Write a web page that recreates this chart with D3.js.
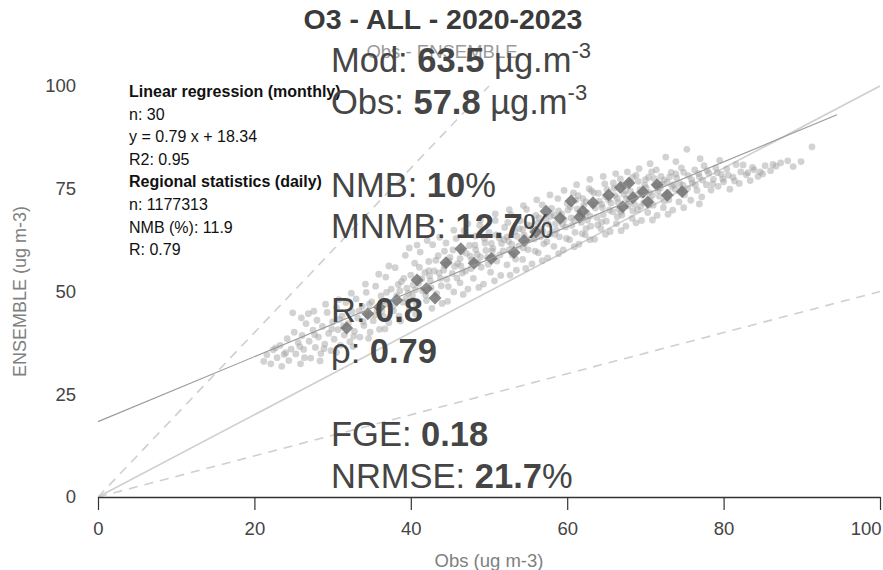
<!DOCTYPE html>
<html>
<head>
<meta charset="utf-8">
<script src="https://cdn.jsdelivr.net/npm/d3@7"></script>
<style>
  html, body { margin: 0; padding: 0; background: #fff; }
  svg { display: block; font-family: "Liberation Sans", Arial, sans-serif; }
</style>
</head>
<body>
<svg id="chart" width="883" height="570"></svg>
<script>
// Daily station pairs (Obs, ENSEMBLE) in ug m-3
const dailyPoints = [
  [21.2,33.0],[21.6,34.6],[22.1,32.4],[22.4,35.8],[22.9,33.9],[23.3,36.9],[23.5,31.8],[23.8,34.7],[24.2,38.5],[24.4,33.2],
  [24.7,36.0],[24.9,44.8],[25.1,40.1],[25.3,34.8],[25.6,37.6],[25.9,32.4],[26.1,39.3],[26.3,35.9],[26.6,42.2],[26.9,44.6],
  [27.0,37.9],[27.2,33.8],[27.5,40.6],[27.8,36.4],[28.0,43.0],[28.2,38.9],[28.5,34.9],[28.7,41.5],[29.0,37.2],[29.3,44.9],
  [29.5,39.8],[29.8,35.6],[30.0,42.6],[30.2,38.4],[30.5,46.1],[30.7,40.7],[31.0,36.9],[31.2,44.0],[31.5,39.4],[31.7,47.3],
  [32.0,42.2],[32.2,37.8],[32.5,45.1],[32.8,40.3],[33.0,48.2],[33.2,43.6],[33.5,38.9],[33.8,46.4],[34.0,41.7],[34.3,49.8],
  [34.5,44.2],[34.8,40.1],[35.0,47.5],[35.2,42.9],[35.5,51.3],[35.7,45.6],[36.0,40.8],[36.2,48.9],[36.5,43.9],[36.8,53.5],
  [37.0,47.0],[37.2,42.4],[37.5,50.6],[37.8,45.3],[38.0,55.8],[38.2,49.0],[38.5,44.0],[38.8,52.4],[39.0,47.4],[39.3,58.8],
  [39.5,50.8],[39.8,45.5],[40.0,54.0],[40.2,49.1],[40.5,56.9],[40.7,46.7],[41.0,52.0],[41.2,59.6],[41.5,50.2],[41.8,54.6],
  [42.0,47.8],[42.3,57.3],[42.5,52.6],[42.8,61.4],[43.0,55.0],[43.3,49.5],[43.5,58.7],[43.8,53.2],[44.0,47.1],[44.3,56.4],
  [44.5,61.8],[44.8,51.2],[45.0,58.3],[45.3,54.4],[45.5,49.9],[45.8,62.9],[46.0,56.8],[46.3,52.1],[46.5,59.7],[46.8,64.8],
  [47.0,55.0],[47.3,50.6],[47.5,61.2],[47.8,57.6],[48.0,53.2],[48.3,63.5],[48.5,59.0],[48.8,66.1],[49.0,55.9],[49.3,51.8],
  [49.5,61.8],[49.8,58.3],[50.0,64.4],[50.2,54.7],[50.5,60.5],[50.8,67.3],[51.0,57.4],[51.3,63.0],[51.5,53.9],[51.8,59.9],
  [52.0,65.6],[52.3,56.5],[52.5,62.2],[52.8,68.7],[53.0,58.9],[53.3,64.6],[53.5,55.2],[53.8,61.1],[54.0,67.2],[54.3,57.8],
  [54.5,63.7],[54.8,70.0],[55.0,60.2],[55.3,66.0],[55.5,56.7],[55.8,62.8],[56.0,68.5],[56.3,59.4],[56.5,65.2],[56.8,71.1],
  [57.0,61.6],[57.3,67.3],[57.5,58.2],[57.8,64.1],[58.0,70.2],[58.3,61.0],[58.5,66.5],[58.8,72.6],[59.0,63.3],[59.3,68.9],
  [59.5,60.1],[59.8,65.7],[60.0,71.4],[60.3,62.6],[60.5,67.9],[60.8,74.0],[61.0,64.4],[61.3,70.1],[61.5,61.5],[61.8,66.8],
  [62.0,72.6],[62.3,63.8],[62.5,69.2],[62.8,75.0],[63.0,65.9],[63.3,71.0],[63.5,62.7],[63.8,68.0],[64.0,73.9],[64.3,65.3],
  [64.5,70.4],[64.8,76.2],[65.0,67.1],[65.3,72.3],[65.5,64.6],[65.8,69.4],[66.0,75.1],[66.3,66.5],[66.5,71.7],[66.8,77.4],
  [67.0,68.6],[67.3,73.6],[67.5,65.9],[67.8,70.8],[68.0,76.5],[68.3,67.8],[68.5,72.9],[68.8,78.3],[69.0,69.9],[69.3,74.8],
  [69.5,67.3],[69.8,71.6],[70.0,77.2],[70.3,69.2],[70.5,74.0],[70.8,79.1],[71.0,71.0],[71.3,75.8],[71.5,68.5],[71.8,73.2],
  [72.0,78.0],[72.3,70.4],[72.6,82.7],[72.8,76.6],[73.0,72.3],[73.3,79.0],[73.5,69.8],[73.8,74.9],[74.0,77.6],[74.3,71.8],
  [74.6,80.1],[74.8,75.9],[75.0,73.5],[75.3,84.6],[75.5,78.2],[75.8,72.2],[76.0,76.4],[76.3,79.6],[76.6,74.6],[76.9,77.9],
  [77.2,73.0],[77.5,80.6],[77.8,76.0],[78.1,78.8],[78.4,74.7],[78.7,77.3],[79.0,80.1],[79.3,75.6],[79.7,78.5],[80.0,76.7],
  [80.4,79.8],[80.8,74.9],[81.2,77.8],[81.6,80.9],[82.0,76.3],[82.5,80.8],[82.9,78.4],[83.4,77.0],[83.9,79.6],[84.4,78.0],
  [84.7,79.1],[85.3,80.6],[86.0,79.4],[86.7,80.5],[87.3,81.3],[88.2,81.8],[89.9,81.6],[91.3,85.2],
  [38.6,50.2],[39.4,48.3],[40.3,51.6],[41.4,53.1],[42.6,50.9],[43.6,54.5],[44.6,53.0],[45.6,56.1],[46.6,54.5],[47.6,58.6],
  [48.6,57.0],[49.6,60.0],[50.6,58.4],[51.6,61.7],[52.6,60.2],[53.6,63.4],[54.6,61.8],[55.6,64.8],[56.6,63.3],[57.6,66.4],
  [58.6,64.9],[59.6,67.5],[60.6,66.1],[61.6,69.0],[62.6,67.4],[63.6,70.3],[64.6,68.7],[65.6,71.5],[66.6,70.0],[67.6,72.6],
  [68.6,71.2],[69.6,73.5],[70.6,72.3],[71.6,74.6],[72.6,73.6],[73.6,76.0],[74.6,74.7],
  [60.1,69.8],[61.1,72.2],[62.1,70.9],[63.1,74.5],[64.1,72.0],[65.1,74.8],[66.1,73.3],[67.1,75.9],[68.1,74.4],[69.1,76.8],
  [70.1,75.2],[71.1,77.5],[72.1,76.1],[73.1,77.9],[62.4,65.3],[64.4,66.9],[66.4,68.2],[68.4,69.6],[70.4,71.0],[72.4,72.0],
  [58.3,68.6],[56.3,66.7],[54.3,65.1],[52.3,63.3],[50.3,61.7],[48.3,60.2],[46.3,58.0],[44.3,59.8],[42.3,55.1],[40.3,47.9],
  [22.7,36.3],[24.0,35.1],[25.8,36.6],[26.4,33.9],[27.7,39.5],[28.9,36.1],[29.9,40.9],[30.9,43.2],[31.4,41.6],[32.7,39.1],
  [33.4,45.3],[33.9,42.7],[34.7,46.9],[35.4,44.3],[36.3,45.2],[36.9,49.8],[37.7,46.4],[38.4,51.7],[39.1,53.2],[39.7,49.6],
  [40.6,50.4],[41.1,55.9],[41.9,49.1],[42.4,53.8],[43.2,57.6],[43.9,51.4],[44.2,55.2],[44.9,57.4],[45.4,60.1],[45.9,53.3],
  [46.4,56.2],[47.1,59.3],[47.7,55.6],[48.2,61.3],[48.9,58.4],[49.4,62.9],[49.9,56.6],[50.4,59.9],[50.9,63.8],[51.4,58.9],
  [51.9,62.6],[52.4,66.8],[52.9,61.5],[53.4,57.9],[53.9,65.3],[54.4,60.6],[54.9,66.2],[55.4,63.0],[55.9,59.8],[56.4,67.9],
  [56.9,64.6],[57.4,62.1],[57.9,68.3],[58.4,63.9],[58.9,69.6],[59.4,66.3],[59.9,62.9],[60.4,70.6],[60.9,67.2],[61.4,73.3],
  [61.9,64.1],[62.4,71.8],[62.9,68.4],[63.4,74.0],[63.9,66.2],[64.4,71.2],[64.9,73.1],[65.4,69.8],[65.9,76.4],[66.4,72.7],
  [66.9,69.4],[67.4,74.5],[67.9,71.9],[68.4,77.8],[68.9,73.5],[69.4,70.7],[69.9,75.9],[70.4,77.8],[70.9,73.4],[71.4,79.6],
  [71.9,75.2],[72.4,77.1],[72.9,74.1],[73.4,75.6],[73.9,78.6],[74.4,76.3],[74.9,79.0],[75.4,75.1],[75.9,77.2],[76.4,75.9],
  [76.8,78.7],[77.3,77.1],[77.9,79.4],[78.6,76.2],[79.2,78.9],[79.9,77.4],[80.6,78.3],[81.4,76.9],[82.2,79.1],[83.1,78.9],
  [83.7,80.2],[85.0,78.6],[86.3,80.9],[88.9,80.4],[79.5,81.9],[77.0,82.3],[73.9,81.6],[70.6,81.1],[69.2,79.9],[67.7,79.1],
  [66.2,78.7],[64.6,78.0],[62.9,77.3],[61.2,76.0],[59.6,74.6],[57.8,73.5],[56.1,72.3],[54.4,70.9],[52.6,69.9],[50.8,68.9],
  [48.9,67.4],[47.3,66.5],[45.5,64.9],[43.7,63.2],[42.1,62.4],[40.8,61.3],[39.8,60.6],[37.2,56.2],[35.9,54.2],[34.2,51.8],
  [32.4,49.6],[30.8,48.0],[29.1,46.9],[27.6,45.2],[26.0,43.6],[58.9,59.2],[60.9,60.9],[62.9,62.6],[64.9,63.9],[66.9,64.8],
  [68.8,66.7],[70.9,67.4],[72.9,68.8],[74.9,70.4],[76.9,71.3],[56.8,57.5],[54.7,55.6],[52.7,54.0],[50.7,52.6],[48.7,51.0],
  [46.7,49.3],[44.7,47.6],[42.7,45.9],[40.6,44.5],[38.7,42.8],[36.7,40.9],[34.6,38.6],[32.6,36.6],[30.5,35.2],[28.4,33.1]
];

// Monthly means (Obs, ENSEMBLE) in ug m-3
const monthlyPoints = [
  [31.8,41.1],[34.5,44.6],[36.0,46.2],[38.2,47.9],[40.8,52.8],[42.0,50.7],[43.1,48.4],[44.5,57.0],[46.4,60.4],[48.1,56.9],
  [50.3,58.0],[53.2,59.5],[54.5,62.4],[56.0,64.5],[57.3,69.5],[59.1,67.8],[60.5,72.0],[61.6,68.1],[62.0,69.5],[63.3,71.6],
  [65.3,73.5],[66.8,75.3],[67.1,70.6],[67.9,76.4],[68.4,72.8],[69.7,74.2],[70.3,71.8],[71.5,76.0],[72.8,73.4],[74.7,74.3]
];

// Monthly linear regression: y = slope * x + intercept
const regSlope = 0.79;
const regIntercept = 18.34;
const regRange = [0, 94.5];

const xTicks = [0, 20, 40, 60, 80, 100];
const yTicks = [0, 25, 50, 75, 100];

const titleText = "O3 - ALL - 2020-2023";
const subtitleText = "Obs - ENSEMBLE";
const xLabel = "Obs (ug m-3)";
const yLabel = "ENSEMBLE (ug m-3)";

// Left annotation block: [text, bold]
const regressionLines = [
  ["Linear regression (monthly)", true],
  ["n: 30", false],
  ["y = 0.79 x + 18.34", false],
  ["R2: 0.95", false],
  ["Regional statistics (daily)", true],
  ["n: 1177313", false],
  ["NMB (%): 11.9", false],
  ["R: 0.79", false]
];

// Large statistics block
const statNames  = ["Mod", "Obs", "NMB", "MNMB", "R", "ρ", "FGE", "NRMSE"];
const statValues = ["63.5", "57.8", "10", "12.7", "0.8", "0.79", "0.18", "21.7"];
const statUnits  = ["µg.m", "µg.m", "%", "%", "", "", "", "%"];
const statRows   = [0, 1, 3, 4, 6, 7, 9, 10];

const svg = d3.select("#chart");
const W = 883, H = 570;
const margin = { left: 98, right: 3, top: 86, bottom: 73 };

const x = d3.scaleLinear().domain([0, 100]).range([margin.left, W - margin.right]);
const y = d3.scaleLinear().domain([0, 100]).range([H - margin.bottom, margin.top]);

// Title and subtitle (subtitle sits beneath the statistics block)
svg.append("text")
  .attr("x", 443).attr("y", 29)
  .attr("text-anchor", "middle")
  .attr("font-size", 28.5).attr("font-weight", "bold").attr("fill", "#3a3a3a")
  .text(titleText);
svg.append("text")
  .attr("x", 442).attr("y", 58)
  .attr("text-anchor", "middle")
  .attr("font-size", 18.5).attr("fill", "#9a9a9a")
  .text(subtitleText);

// Reference lines 1:1, 2:1, 1:2
const refLines = [
  { pts: [[0, 0], [100, 100]], dash: null },
  { pts: [[0, 0], [50, 100]], dash: "9,7" },
  { pts: [[0, 0], [100, 50]], dash: "9,7" }
];
const line = d3.line().x(d => x(d[0])).y(d => y(d[1]));
svg.append("g").selectAll("path").data(refLines).join("path")
  .attr("d", d => line(d.pts))
  .attr("fill", "none")
  .attr("stroke", "#cfcfcf")
  .attr("stroke-width", 1.6)
  .attr("stroke-dasharray", d => d.dash);

// Daily points
svg.append("g").selectAll("circle").data(dailyPoints).join("circle")
  .attr("cx", d => x(d[0]))
  .attr("cy", d => y(d[1]))
  .attr("r", 3.4)
  .attr("fill", "#a0a0a0")
  .attr("fill-opacity", 0.48);

// Monthly points as diamonds
const diamond = d3.symbol().type(d3.symbolSquare).size(84);
svg.append("g").selectAll("path").data(monthlyPoints).join("path")
  .attr("d", diamond)
  .attr("transform", d => `translate(${x(d[0])},${y(d[1])}) rotate(45)`)
  .attr("fill", "#727272")
  .attr("fill-opacity", 0.85);

// Regression line
svg.append("path")
  .attr("d", line(regRange.map(v => [v, regSlope * v + regIntercept])))
  .attr("fill", "none")
  .attr("stroke", "#9a9a9a")
  .attr("stroke-width", 1.1);

// X axis
const xAxis = svg.append("g")
  .attr("transform", `translate(0,${y(0)})`)
  .call(d3.axisBottom(x).tickValues(xTicks).tickSize(13).tickPadding(12).tickSizeOuter(0));
xAxis.select(".domain").attr("stroke", "#333").attr("stroke-width", 1.4);
xAxis.selectAll(".tick line").attr("stroke", "#333").attr("stroke-width", 1.2);
xAxis.selectAll(".tick text")
  .attr("fill", "#444").attr("font-size", 18.5)
  .attr("font-family", "Liberation Sans, Arial, sans-serif")
  .attr("text-anchor", d => d === 100 ? "end" : "middle")
  .attr("dx", d => d === 100 ? 1 : 0);

// Y axis labels only
const yAxis = svg.append("g")
  .attr("transform", `translate(${margin.left},0)`)
  .call(d3.axisLeft(y).tickValues(yTicks).tickSize(0).tickPadding(22));
yAxis.select(".domain").remove();
yAxis.selectAll(".tick text")
  .attr("fill", "#444").attr("font-size", 18.5)
  .attr("font-family", "Liberation Sans, Arial, sans-serif");

// Axis titles
svg.append("text")
  .attr("x", x(50)).attr("y", 567)
  .attr("text-anchor", "middle")
  .attr("font-size", 18.5).attr("fill", "#808080")
  .text(xLabel);
svg.append("text")
  .attr("transform", `translate(26,${y(50)}) rotate(-90)`)
  .attr("text-anchor", "middle")
  .attr("font-size", 18).attr("fill", "#808080")
  .text(yLabel);

// Left annotation block
svg.append("g").selectAll("text").data(regressionLines).join("text")
  .attr("x", 129)
  .attr("y", (d, i) => 97 + i * 22.6)
  .attr("font-size", 16)
  .attr("font-weight", d => d[1] ? "bold" : "normal")
  .attr("fill", "#111")
  .text(d => d[0]);

// Large statistics block
const stats = svg.append("g").attr("fill", "#454545");
statNames.forEach((name, i) => {
  const t = stats.append("text")
    .attr("x", 331)
    .attr("y", 72 + statRows[i] * 41.6)
    .attr("font-size", 34.5);
  t.append("tspan").text(name + ": ");
  t.append("tspan").attr("font-weight", "bold").text(statValues[i]);
  const u = statUnits[i];
  if (u === "%") {
    t.append("tspan").text("%");
  } else if (u) {
    t.append("tspan").text(" " + u);
    t.append("tspan").attr("font-size", 22).attr("dy", -14).text("-3");
  }
});
</script>
</body>
</html>
